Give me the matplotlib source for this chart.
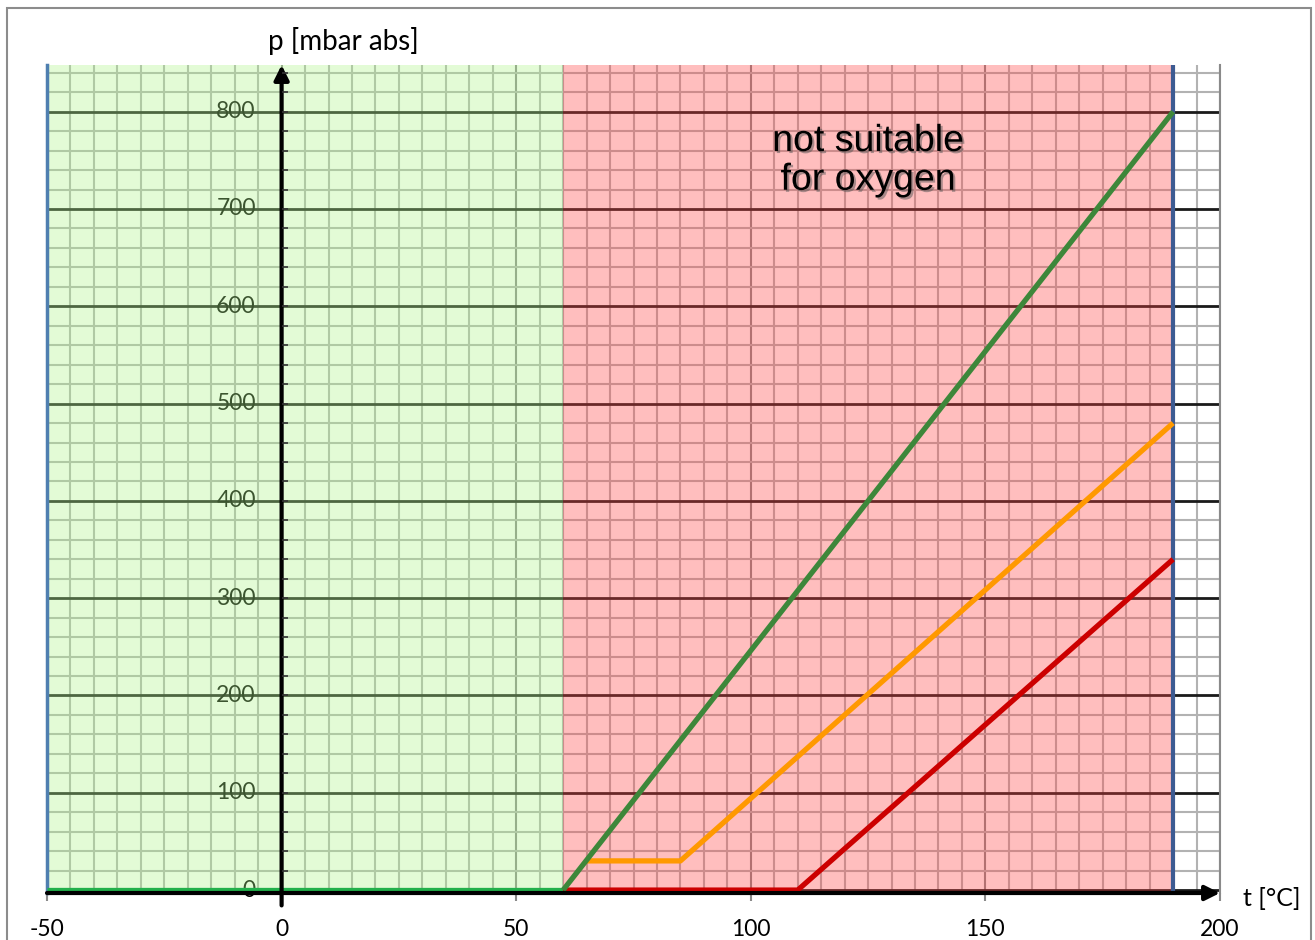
import numpy as np
import matplotlib
matplotlib.use("Agg")
import matplotlib.pyplot as plt
import matplotlib.patheffects as pe
from matplotlib.patches import Rectangle

# --- data ---
green_x = [60, 190]
green_y = [0, 800]
green_base_x = [-50, 60]
green_base_y = [0, 0]
orange_x = [65, 85, 190]
orange_y = [30, 30, 480]
red_x = [60, 110, 190]
red_y = [0, 0, 340]

ok_region = (-50, 60)
bad_region = (60, 190)
x_ticks = [-50, 0, 50, 100, 150, 200]
y_ticks = [0, 100, 200, 300, 400, 500, 600, 700, 800]
note = "not suitable\nfor oxygen"

W, H = 1315, 940
fig = plt.figure(figsize=(W / 100, H / 100), dpi=100)
ax = fig.add_axes([47 / W, 47 / H, (1220 - 47) / W, (893 - 65) / H])
ax.set_xlim(-50, 200)
ax.set_ylim(-3, 848)

# grid
ax.set_xticks(x_ticks)
ax.set_xticks(np.arange(-50, 201, 5), minor=True)
ax.set_yticks(y_ticks)
ax.set_yticks(np.arange(0, 848, 20), minor=True)
ax.grid(True, which="minor", color="#b2b2b2", linewidth=1.5, zorder=0)
ax.grid(True, which="major", axis="x", color="#8a8a8a", linewidth=1.5, zorder=0)
ax.grid(True, which="major", axis="y", color="#1a1a1a", linewidth=2, zorder=0)
ax.set_axisbelow(True)

# regions (semi transparent over grid and y labels)
ax.axvspan(*ok_region, color=(175 / 255, 246 / 255, 140 / 255), alpha=0.35,
           lw=0, zorder=1)
ax.axvspan(*bad_region, color=(1.0, 69 / 255, 69 / 255), alpha=0.35,
           lw=0, zorder=1)
ax.axvline(bad_region[1], color="#3d5b92", linewidth=3, zorder=2)

# y labels inside the plot, left of the y axis
for v in y_ticks:
    ax.text(-5.5, v, str(v), ha="right", va="center", fontsize=16.5,
            family="Lato", color="black", zorder=0.8)

# x tick labels
ax.set_xticklabels([str(v) for v in x_ticks], fontsize=16.5, family="Lato")
ax.tick_params(axis="x", which="major", direction="out", length=6,
               width=1.5, color="#8a8a8a", pad=13)
ax.tick_params(axis="x", which="minor", length=0)
ax.tick_params(axis="y", which="both", length=0, labelleft=False)

for s in ["top", "bottom"]:
    ax.spines[s].set_visible(False)
ax.spines["left"].set_color("#4f7fb0")
ax.spines["left"].set_linewidth(2.5)
ax.spines["right"].set_color("#8a8a8a")
ax.spines["right"].set_linewidth(1.5)

# series
lw = 3.8
ax.plot(green_base_x, green_base_y, color="#22b04b", linewidth=lw,
        solid_capstyle="butt", zorder=4)
ax.plot(red_x, red_y, color="#cc0000", linewidth=lw,
        solid_capstyle="butt", zorder=4)
ax.plot(orange_x, orange_y, color="#ff9900", linewidth=lw,
        solid_capstyle="butt", zorder=4)
ax.plot(green_x, green_y, color="#3d873a", linewidth=lw,
        solid_capstyle="butt", zorder=5)

# axes with arrows
ax.annotate("", xy=(200, 0), xytext=(-50, 0),
            xycoords=("data", "axes fraction"),
            arrowprops=dict(arrowstyle="-|>", color="black", lw=3,
                            mutation_scale=22, shrinkA=0, shrinkB=0),
            zorder=6, annotation_clip=False)
ax.annotate("", xy=(0, 1.0), xytext=(0, -0.015),
            xycoords=("data", "axes fraction"),
            arrowprops=dict(arrowstyle="-|>", color="black", lw=3,
                            mutation_scale=22, shrinkA=0, shrinkB=0),
            zorder=6, annotation_clip=False)
minor_y = np.arange(20, 848, 20)
ax.plot(np.zeros(len(minor_y)), minor_y, linestyle="none", marker=1,
        markersize=4, markeredgewidth=1.2, color="#333333", zorder=6)

# text
ax.text(125, 750, note, ha="center", va="center", fontsize=27,
        family="Liberation Sans", linespacing=1.1, zorder=7,
        path_effects=[pe.SimplePatchShadow(offset=(1.5, -1.5),
                                           shadow_rgbFace="#555555",
                                           alpha=0.5),
                      pe.Normal()])

fig.text(343 / W, 1 - 41 / H, "p [mbar abs]", ha="center", va="center",
         fontsize=20, family="Lato")
fig.text(1243 / W, 1 - 898 / H, "t [°C]", ha="left", va="center",
         fontsize=18, family="Lato")

fig.patches.append(Rectangle((7 / W, -0.05), (1311 - 7) / W, 1.05 - 8 / H,
                             transform=fig.transFigure, fill=False,
                             edgecolor="#8c8c8c", linewidth=1.5))

fig.savefig("out.png", dpi=100)
